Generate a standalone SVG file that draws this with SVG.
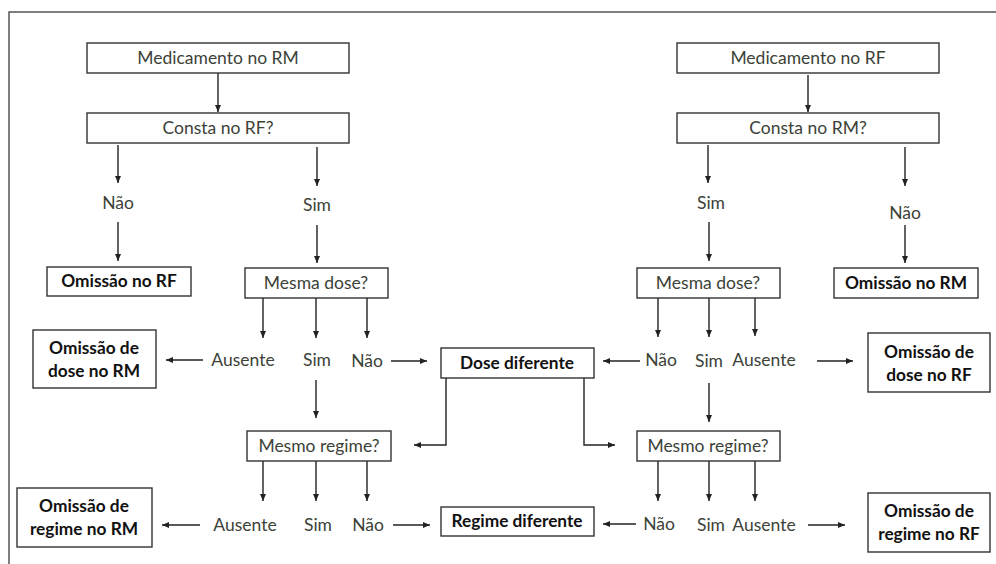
<svg xmlns="http://www.w3.org/2000/svg" width="996" height="564" viewBox="0 0 996 564">
<style>
.bx{fill:#fff;stroke:#333;stroke-width:1.4}
.t{font-family:Lato,"Liberation Sans",sans-serif;font-size:17.5px;fill:#3c4238;text-anchor:middle}
.b{font-family:Lato,"Liberation Sans",sans-serif;font-size:17.3px;font-weight:bold;fill:#111;text-anchor:middle}
.c{fill:none;stroke:#222;stroke-width:1.4;marker-end:url(#ah)}
</style>
<defs>
<marker id="ah" markerUnits="userSpaceOnUse" markerWidth="8" markerHeight="8" viewBox="0 0 8 8" refX="7" refY="4" orient="auto">
<path d="M0,1 L7,4 L0,7 Z" fill="#222"/>
</marker>
</defs>
<rect width="996" height="564" fill="#fff"/>
<path d="M9,564 V12 H996" fill="none" stroke="#555" stroke-width="1.5"/>

<g id="connectors">
<line class="c" x1="218" y1="73" x2="218" y2="112"/>
<line class="c" x1="118" y1="145" x2="118" y2="183"/>
<line class="c" x1="118" y1="222" x2="118" y2="261"/>
<line class="c" x1="317" y1="147" x2="317" y2="186"/>
<line class="c" x1="317" y1="225" x2="317" y2="263"/>
<line class="c" x1="808" y1="75" x2="808" y2="112"/>
<line class="c" x1="708" y1="145" x2="708" y2="183"/>
<line class="c" x1="709" y1="222" x2="709" y2="261"/>
<line class="c" x1="905" y1="147" x2="905" y2="186"/>
<line class="c" x1="905" y1="225" x2="905" y2="263"/>
<line class="c" x1="263" y1="298" x2="263" y2="338"/>
<line class="c" x1="316" y1="298" x2="316" y2="338"/>
<line class="c" x1="367" y1="298" x2="367" y2="338"/>
<line class="c" x1="658" y1="298" x2="658" y2="337"/>
<line class="c" x1="709" y1="298" x2="709" y2="337"/>
<line class="c" x1="755" y1="298" x2="755" y2="336"/>
<line class="c" x1="203" y1="360" x2="166" y2="360"/>
<line class="c" x1="391" y1="361" x2="427" y2="361"/>
<line class="c" x1="640" y1="361" x2="603" y2="361"/>
<line class="c" x1="817" y1="361" x2="853" y2="361"/>
<line class="c" x1="316" y1="380" x2="316" y2="418"/>
<line class="c" x1="709" y1="383" x2="709" y2="422"/>
<path class="c" d="M446,378 V445 H414"/>
<path class="c" d="M584,378 V445 H615"/>
<line class="c" x1="263" y1="461" x2="263" y2="501"/>
<line class="c" x1="316" y1="461" x2="316" y2="501"/>
<line class="c" x1="367" y1="461" x2="367" y2="501"/>
<line class="c" x1="658" y1="461" x2="658" y2="501"/>
<line class="c" x1="709" y1="461" x2="709" y2="501"/>
<line class="c" x1="755" y1="461" x2="755" y2="501"/>
<line class="c" x1="200" y1="525" x2="162" y2="525"/>
<line class="c" x1="393" y1="525" x2="430" y2="525"/>
<line class="c" x1="636" y1="524" x2="603" y2="524"/>
<line class="c" x1="808" y1="525" x2="845" y2="525"/>
</g>

<g id="medRM"><rect class="bx" x="87" y="43" width="262" height="30"/><text class="t" x="218" y="64">Medicamento no RM</text></g>
<g id="constaRF"><rect class="bx" x="87" y="113" width="262" height="30"/><text class="t" x="218" y="134">Consta no RF?</text></g>
<g id="naoL1"><text class="t" x="118" y="209">Não</text></g>
<g id="simL1"><text class="t" x="317" y="211">Sim</text></g>
<g id="omRF"><rect class="bx" x="47" y="267" width="144" height="29"/><text class="b" x="119" y="287">Omissão no RF</text></g>
<g id="doseL"><rect class="bx" x="245" y="268" width="143" height="30"/><text class="t" x="316" y="289">Mesma dose?</text></g>

<g id="medRF"><rect class="bx" x="677" y="43" width="262" height="30"/><text class="t" x="808" y="64">Medicamento no RF</text></g>
<g id="constaRM"><rect class="bx" x="677" y="113" width="262" height="30"/><text class="t" x="808" y="134">Consta no RM?</text></g>
<g id="simR1"><text class="t" x="711" y="209">Sim</text></g>
<g id="naoR1"><text class="t" x="905" y="219">Não</text></g>
<g id="doseR"><rect class="bx" x="637" y="268" width="143" height="30"/><text class="t" x="708" y="289">Mesma dose?</text></g>
<g id="omRM"><rect class="bx" x="834" y="268" width="144" height="30"/><text class="b" x="906" y="289">Omissão no RM</text></g>

<g id="rowDoseL"><text class="t" x="243" y="366">Ausente</text><text class="t" x="317" y="366">Sim</text><text class="t" x="367" y="367">Não</text></g>
<g id="rowDoseR"><text class="t" x="661" y="366">Não</text><text class="t" x="709" y="367">Sim</text><text class="t" x="764" y="366">Ausente</text></g>
<g id="omDoseRM"><rect class="bx" x="33" y="330" width="123" height="58"/><text class="b" x="94" y="354">Omissão de</text><text class="b" x="94" y="377">dose no RM</text></g>
<g id="doseDif"><rect class="bx" x="441" y="348" width="153" height="30"/><text class="b" x="517" y="369">Dose diferente</text></g>
<g id="omDoseRF"><rect class="bx" x="868" y="333" width="122" height="59"/><text class="b" x="929" y="358">Omissão de</text><text class="b" x="929" y="381">dose no RF</text></g>

<g id="regL"><rect class="bx" x="247" y="431" width="144" height="30"/><text class="t" x="319" y="452">Mesmo regime?</text></g>
<g id="regR"><rect class="bx" x="637" y="431" width="143" height="30"/><text class="t" x="708" y="452">Mesmo regime?</text></g>

<g id="rowRegL"><text class="t" x="245" y="531">Ausente</text><text class="t" x="318" y="531">Sim</text><text class="t" x="368" y="531">Não</text></g>
<g id="rowRegR"><text class="t" x="659" y="530">Não</text><text class="t" x="711" y="531">Sim</text><text class="t" x="764" y="531">Ausente</text></g>
<g id="omRegRM"><rect class="bx" x="17" y="488" width="135" height="59"/><text class="b" x="84" y="512">Omissão de</text><text class="b" x="84" y="535">regime no RM</text></g>
<g id="regDif"><rect class="bx" x="441" y="507" width="153" height="29"/><text class="b" x="517" y="527">Regime diferente</text></g>
<g id="omRegRF"><rect class="bx" x="868" y="493" width="122" height="59"/><text class="b" x="929" y="517">Omissão de</text><text class="b" x="929" y="540">regime no RF</text></g>
</svg>
